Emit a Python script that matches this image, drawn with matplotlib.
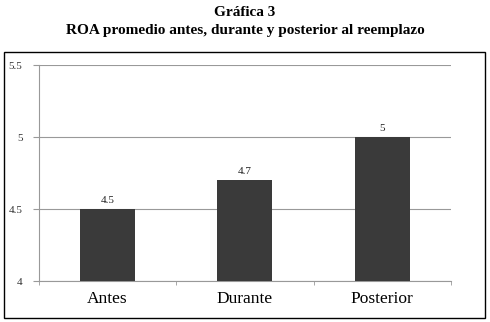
import matplotlib
matplotlib.use("Agg")
import matplotlib.pyplot as plt
from matplotlib.patches import Rectangle

categories = ["Antes", "Durante", "Posterior"]
values = [4.5, 4.7, 5.0]
value_labels = ["4.5", "4.7", "5"]
yticks = [4, 4.5, 5, 5.5]
ytick_labels = ["4", "4.5", "5", "5.5"]

plt.rcParams['font.family'] = ['Liberation Serif', 'DejaVu Serif']

fig = plt.figure(figsize=(4.9, 3.22), dpi=100)
fig.patch.set_facecolor('white')

# outer frame
fig.add_artist(Rectangle((0.008, 0.012), 0.982, 0.827, transform=fig.transFigure,
                         fill=False, edgecolor='black', linewidth=1.0))

fig.text(0.5, 0.962, "Gráfica 3", ha='center', va='center', fontsize=11, fontweight='bold')
fig.text(0.5, 0.905, "ROA promedio antes, durante y posterior al reemplazo",
         ha='center', va='center', fontsize=11, fontweight='bold')

ax = fig.add_axes([0.0796, 0.127, 0.8404, 0.671])
x = list(range(len(categories)))
ax.bar(x, values, width=0.4, color='#3a3a3a', zorder=3)
for xi, v, lab in zip(x, values, value_labels):
    ax.text(xi, v + 0.03, lab, ha='center', va='bottom', fontsize=8, color='#222222')

ax.set_ylim(4, 5.5)
ax.set_xlim(-0.5, 2.5)
ax.set_yticks(yticks)
ax.set_yticklabels(ytick_labels, fontsize=8, color='#333333')
ax.yaxis.grid(True, color='#999999', linewidth=0.8, zorder=0)
ax.set_xticks(x)
ax.set_xticklabels(categories, fontsize=12.5)
ax.set_xticks([-0.5, 0.5, 1.5, 2.5], minor=True)
ax.tick_params(axis='x', which='major', length=0, pad=7)
ax.tick_params(axis='x', which='minor', length=3, color='#999999', direction='out')
ax.tick_params(axis='y', length=4, color='#999999', pad=8)
for s in ['top', 'right']:
    ax.spines[s].set_visible(False)
ax.spines['left'].set_color('#999999')
ax.spines['bottom'].set_color('#999999')

fig.savefig("out.png", dpi=100, facecolor='white')
